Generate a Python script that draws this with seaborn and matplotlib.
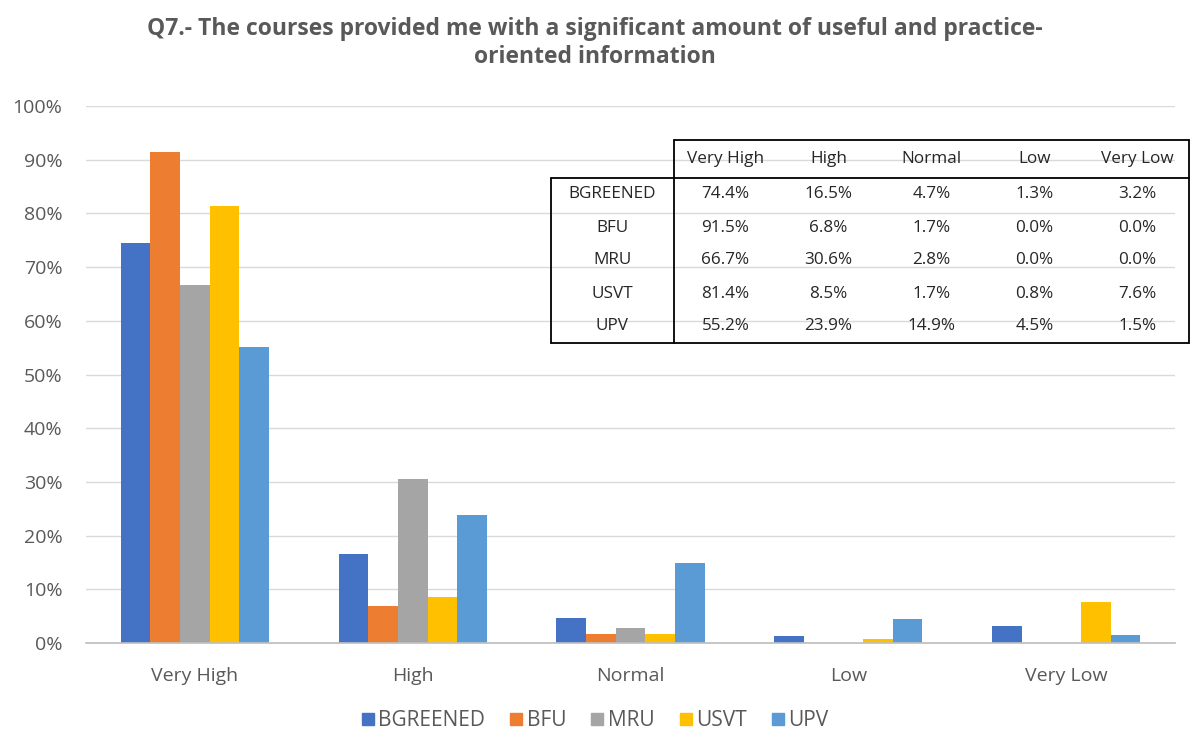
import pandas as pd
import seaborn as sns
import matplotlib.pyplot as plt
from matplotlib.lines import Line2D
from matplotlib.ticker import PercentFormatter

# Survey answers per partner (% of respondents)
levels = ['Very High', 'High', 'Normal', 'Low', 'Very Low']
partners = ['BGREENED', 'BFU', 'MRU', 'USVT', 'UPV']
bgreened = [74.4, 16.5, 4.7, 1.3, 3.2]
bfu = [91.5, 6.8, 1.7, 0.0, 0.0]
mru = [66.7, 30.6, 2.8, 0.0, 0.0]
usvt = [81.4, 8.5, 1.7, 0.8, 7.6]
upv = [55.2, 23.9, 14.9, 4.5, 1.5]
colors = ['#4472C4', '#ED7D31', '#A5A5A5', '#FFC000', '#5B9BD5']

values = [bgreened, bfu, mru, usvt, upv]
df = pd.DataFrame({
    'level': levels * len(partners),
    'partner': [p for p in partners for _ in levels],
    'pct': [v for row in values for v in row],
})

sns.set_theme(style='white')
plt.rcParams['font.family'] = ['Open Sans', 'DejaVu Sans']
txt = '#595959'

fig = plt.figure(figsize=(11.9, 7.33), dpi=100)
ax = fig.add_axes([86 / 1190, 1 - 643 / 733, (1175 - 86) / 1190, (643 - 106) / 733])

sns.barplot(data=df, x='level', y='pct', hue='partner', order=levels,
            hue_order=partners, palette=colors, width=0.68, saturation=1,
            linewidth=0, ax=ax, legend=False)

ax.set_ylim(0, 100)
ax.set_yticks(range(0, 101, 10))
ax.yaxis.set_major_formatter(PercentFormatter(decimals=0))
ax.grid(axis='y', color='#D9D9D9', lw=1)
ax.set_axisbelow(True)
for s in ['top', 'right', 'left']:
    ax.spines[s].set_visible(False)
ax.spines['bottom'].set_color('#BFBFBF')
ax.set_xlabel('')
ax.set_ylabel('')
ax.tick_params(axis='both', length=0, labelsize=14, labelcolor=txt)
ax.tick_params(axis='y', pad=17)
ax.tick_params(axis='x', pad=17)

fig.text(0.5, 1 - 43 / 733, 'Q7.- The courses provided me with a significant amount of useful and practice-\noriented information',
         ha='center', va='center', fontsize=16.5, fontweight='bold', color=txt, linespacing=1.17)

# legend
handles = [Line2D([], [], marker='s', ls='', color=c, markersize=8) for c in colors]
fig.legend(handles, partners, loc='center', bbox_to_anchor=(0.5, 1 - 721 / 733), ncol=5,
           frameon=False, fontsize=15, labelcolor=txt, handlelength=0.6,
           handletextpad=0.2, columnspacing=1.2)

# data table
W, H = 1190, 733
fx = lambda x: x / W
fy = lambda y: 1 - y / H
L, M, R = 551, 674, 1189
top, hdr, bot = 140, 178, 343
row_h = (bot - hdr) / 5
col_w = (R - M) / 5
lk = dict(color='black', lw=1.3, transform=fig.transFigure)
fig.add_artist(Line2D([fx(M), fx(R)], [fy(top), fy(top)], **lk))
fig.add_artist(Line2D([fx(L), fx(R)], [fy(hdr), fy(hdr)], **lk))
fig.add_artist(Line2D([fx(L), fx(R)], [fy(bot), fy(bot)], **lk))
fig.add_artist(Line2D([fx(L), fx(L)], [fy(hdr), fy(bot)], **lk))
fig.add_artist(Line2D([fx(M), fx(M)], [fy(top), fy(bot)], **lk))
fig.add_artist(Line2D([fx(R), fx(R)], [fy(top), fy(bot)], **lk))
fig.patches.append(plt.Rectangle((fx(L), fy(bot)), fx(R) - fx(L), fy(hdr) - fy(bot),
                                 transform=fig.transFigure, color='white', zorder=-1))
fig.patches.append(plt.Rectangle((fx(M), fy(hdr)), fx(R) - fx(M), fy(top) - fy(hdr),
                                 transform=fig.transFigure, color='white', zorder=-1))
tk = dict(ha='center', va='center', fontsize=12.3, color='#262626')
for j, lev in enumerate(levels):
    fig.text(fx(M + col_w * (j + 0.5)), fy((top + hdr) / 2), lev, **tk)
for i, (p, row) in enumerate(zip(partners, values)):
    yc = fy(hdr + row_h * (i + 0.5))
    fig.text(fx((L + M) / 2), yc, p, **tk)
    for j, v in enumerate(row):
        fig.text(fx(M + col_w * (j + 0.5)), yc, f'{v:.1f}%', **tk)

fig.savefig('out.png', dpi=100)
